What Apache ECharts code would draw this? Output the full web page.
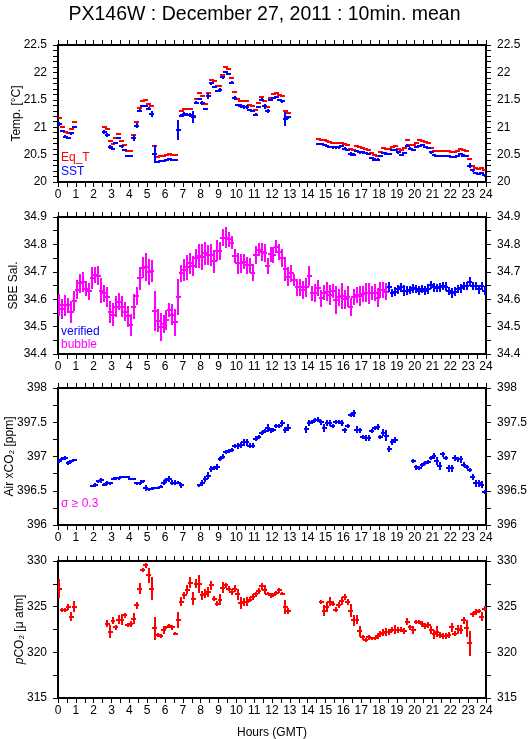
<!DOCTYPE html>
<html>
<head>
<meta charset="utf-8">
<script src="https://cdn.jsdelivr.net/npm/echarts@6/dist/echarts.min.js"></script>
<style>
  html, body { margin: 0; padding: 0; background: #fff; }
  #main { width: 529px; height: 739px; }
</style>
</head>
<body>
<div id="main"></div>
<script>
// 10-minute slots, 144 per day, 12 per row (= 2 hours per row)
const sstVal = [
  21.06, 20.93, 20.83, 20.81, 20.89, 21.00, null, null, null, null, null, null,
  null, null, null, 20.91, 20.86, 20.64, 20.60, 20.71, 20.80, 20.65, 20.58, 20.48,
  20.48, 20.80, 21.03, 21.30, 21.38, 21.39, 21.34, 21.24, 20.51, 20.36, 20.38, 20.39,
  20.41, 20.42, 20.41, 20.41, 20.95, 21.21, 21.24, 21.23, 21.22, 21.18, 21.45, 21.52,
  21.44, 21.33, 21.57, 21.80, 21.74, 21.66, 21.68, 21.91, 22.00, 21.97, 21.81, 21.53,
  21.41, 21.39, 21.37, 21.37, 21.32, 21.29, 21.23, 21.37, 21.50, 21.38, 21.30, 21.49,
  21.53, 21.55, 21.49, 21.47, 21.15, 21.18, null, null, null, null, null, null,
  null, null, null, 20.70, 20.69, 20.67, 20.65, 20.64, 20.63, 20.63, 20.63, 20.65,
  20.61, 20.58, 20.51, 20.50, 20.56, 20.54, 20.54, 20.53, 20.51, 20.44, 20.41, 20.41,
  20.47, 20.53, 20.52, 20.51, 20.58, 20.58, 20.54, 20.50, 20.53, 20.66, 20.61, 20.59,
  20.64, 20.66, 20.67, 20.64, 20.62, 20.54, 20.49, 20.47, 20.47, 20.47, 20.47, 20.48,
  20.45, 20.45, 20.48, 20.51, 20.48, 20.47, 20.30, 20.21, 20.16, 20.15, 20.16, 20.12
]
const sstSd = [
  0.04, 0.02, 0.02, 0.02, 0.03, 0.02, null, null, null, null, null, null,
  null, null, null, 0.03, 0.03, 0.03, 0.02, 0.02, 0.02, 0.03, 0.02, 0.01,
  0.01, 0.05, 0.04, 0.03, 0.02, 0.02, 0.02, 0.05, 0.17, 0.02, 0.01, 0.01,
  0.01, 0.01, 0.01, 0.01, 0.18, 0.03, 0.04, 0.03, 0.04, 0.11, 0.03, 0.02,
  0.03, 0.02, 0.06, 0.03, 0.02, 0.02, 0.03, 0.03, 0.01, 0.02, 0.03, 0.04,
  0.02, 0.04, 0.03, 0.03, 0.02, 0.02, 0.03, 0.02, 0.03, 0.05, 0.04, 0.02,
  0.02, 0.02, 0.02, 0.02, 0.13, 0.03, null, null, null, null, null, null,
  null, null, null, 0.02, 0.02, 0.02, 0.02, 0.02, 0.02, 0.02, 0.02, 0.02,
  0.02, 0.02, 0.03, 0.03, 0.02, 0.02, 0.02, 0.02, 0.02, 0.02, 0.02, 0.02,
  0.02, 0.02, 0.02, 0.02, 0.02, 0.02, 0.02, 0.02, 0.02, 0.03, 0.02, 0.02,
  0.02, 0.02, 0.02, 0.02, 0.02, 0.02, 0.02, 0.02, 0.02, 0.02, 0.02, 0.02,
  0.02, 0.02, 0.02, 0.02, 0.03, 0.02, 0.05, 0.02, 0.02, 0.02, 0.02, 0.02
]
const eqtVal = [
  21.16, 21.01, 20.92, 20.90, 20.96, 21.09, null, null, null, null, null, null,
  null, null, null, 21.00, 20.96, 20.74, 20.69, 20.80, 20.87, 20.74, 20.67, 20.57,
  20.57, 20.86, 21.09, 21.35, 21.48, 21.49, 21.42, 21.38, 20.65, 20.46, 20.47, 20.48,
  20.49, 20.51, 20.50, 20.49, 20.95, 21.29, 21.33, 21.33, 21.33, 21.21, 21.52, 21.62,
  21.57, 21.43, 21.62, 21.87, 21.85, 21.75, 21.75, 21.95, 22.09, 22.06, 21.90, 21.65,
  21.51, 21.47, 21.47, 21.47, 21.41, 21.39, 21.32, 21.45, 21.56, 21.47, 21.37, 21.53,
  21.61, 21.63, 21.58, 21.57, 21.30, 21.26, null, null, null, null, null, null,
  null, null, null, 20.78, 20.77, 20.76, 20.74, 20.73, 20.71, 20.71, 20.71, 20.72,
  20.70, 20.67, 20.60, 20.58, 20.65, 20.64, 20.62, 20.61, 20.59, 20.53, 20.50, 20.48,
  20.54, 20.62, 20.61, 20.60, 20.64, 20.66, 20.61, 20.59, 20.62, 20.76, 20.68, 20.68,
  20.71, 20.76, 20.75, 20.73, 20.71, 20.62, 20.57, 20.57, 20.57, 20.57, 20.56, 20.57,
  20.55, 20.54, 20.56, 20.61, 20.58, 20.57, 20.42, 20.29, 20.26, 20.24, 20.26, 20.21
]
const salVal = [
  34.579, 34.565, 34.578, 34.578, 34.553, 34.594, 34.634, 34.658, 34.663, 34.639, 34.629, 34.678,
  34.688, 34.685, 34.631, 34.622, 34.607, 34.553, 34.543, 34.573, 34.591, 34.573, 34.555, 34.537,
  34.507, 34.573, 34.612, 34.676, 34.715, 34.716, 34.700, 34.703, 34.557, 34.521, 34.497, 34.510,
  34.525, 34.561, 34.543, 34.515, 34.607, 34.694, 34.706, 34.716, 34.731, 34.721, 34.749, 34.757,
  34.755, 34.767, 34.761, 34.761, 34.739, 34.777, 34.777, 34.825, 34.825, 34.818, 34.806, 34.757,
  34.731, 34.731, 34.737, 34.724, 34.724, 34.697, 34.761, 34.781, 34.773, 34.767, 34.721, 34.764,
  34.761, 34.791, 34.773, 34.751, 34.710, 34.682, 34.694, 34.670, 34.643, 34.643, 34.634, 34.643,
  34.685, 34.622, 34.622, 34.640, 34.603, 34.624, 34.628, 34.615, 34.631, 34.597, 34.607, 34.612,
  34.600, 34.609, 34.573, 34.609, 34.615, 34.612, 34.618, 34.624, 34.622, 34.622, 34.624, 34.606,
  34.634, 34.634, 34.628, 34.643, 34.622, 34.628, 34.636, 34.643, 34.631, 34.631, 34.634, 34.640,
  34.636, 34.631, 34.636, 34.631, 34.636, 34.652, 34.643, 34.640, 34.643, 34.648, 34.646, 34.631,
  34.622, 34.628, 34.636, 34.640, 34.648, 34.648, 34.664, 34.648, 34.648, 34.636, 34.648, 34.631
]
const salSd = [
  0.039, 0.036, 0.038, 0.028, 0.039, 0.036, 0.035, 0.034, 0.036, 0.027, 0.031, 0.041,
  0.030, 0.035, 0.045, 0.031, 0.036, 0.040, 0.042, 0.039, 0.030, 0.038, 0.036, 0.039,
  0.040, 0.047, 0.034, 0.042, 0.038, 0.051, 0.047, 0.040, 0.074, 0.042, 0.051, 0.034,
  0.036, 0.025, 0.038, 0.050, 0.065, 0.030, 0.039, 0.045, 0.039, 0.038, 0.034, 0.044,
  0.048, 0.041, 0.038, 0.040, 0.042, 0.039, 0.033, 0.030, 0.038, 0.027, 0.024, 0.025,
  0.039, 0.035, 0.027, 0.031, 0.028, 0.030, 0.033, 0.025, 0.033, 0.033, 0.030, 0.027,
  0.030, 0.024, 0.030, 0.033, 0.043, 0.035, 0.030, 0.021, 0.030, 0.030, 0.032, 0.034,
  0.036, 0.028, 0.033, 0.030, 0.030, 0.027, 0.034, 0.036, 0.026, 0.050, 0.030, 0.048,
  0.035, 0.038, 0.033, 0.030, 0.028, 0.036, 0.029, 0.034, 0.038, 0.025, 0.030, 0.035,
  0.030, 0.028, 0.030, 0.018, 0.015, 0.015, 0.017, 0.016, 0.020, 0.017, 0.015, 0.016,
  0.015, 0.017, 0.015, 0.016, 0.018, 0.014, 0.017, 0.015, 0.016, 0.015, 0.016, 0.015,
  0.018, 0.015, 0.014, 0.016, 0.015, 0.016, 0.017, 0.015, 0.014, 0.016, 0.015, 0.017
]
const salVerifiedFrom = 18.5 // hours; earlier samples are flagged "bubble"
const xco2Val = [
  396.93, 396.97, 396.98, 396.91, 396.93, 396.95, null, null, null, null, null, 396.57,
  396.58, 396.64, 396.65, 396.59, 396.61, 396.61, 396.67, 396.68, 396.68, 396.70, 396.70, 396.70,
  396.67, 396.67, 396.61, 396.61, 396.64, 396.54, 396.52, 396.53, 396.54, 396.54, 396.56, 396.62,
  396.65, 396.67, 396.62, 396.62, 396.62, 396.58, null, null, null, null, null, 396.58,
  396.61, 396.67, 396.72, 396.82, 396.83, 396.85, 396.96, 397.00, 397.06, 397.08, 397.10, 397.15,
  397.15, 397.17, 397.21, 397.21, 397.16, 397.16, 397.26, 397.29, 397.34, 397.37, 397.42, 397.38,
  397.39, 397.44, 397.45, 397.49, 397.39, 397.42, null, null, null, null, null, 397.40,
  397.49, 397.51, 397.53, 397.54, 397.50, 397.42, 397.49, 397.49, 397.45, 397.50, 397.51, 397.49,
  397.38, 397.45, 397.61, 397.63, 397.39, 397.38, 397.29, 397.27, 397.27, 397.37, 397.42, 397.43,
  397.29, 397.35, 397.30, 397.11, 397.21, 397.24, null, null, null, null, null, 396.93,
  396.84, 396.83, 396.87, 396.90, 396.92, 396.98, 397.01, 396.93, 396.86, 397.03, 396.98, 396.83,
  396.83, 396.98, 396.96, 396.96, 396.88, 396.85, 396.80, 396.70, 396.61, 396.61, 396.59, 396.48
]
const xco2Sd = [
  0.03, 0.02, 0.03, 0.03, 0.02, 0.02, null, null, null, null, null, 0.02,
  0.03, 0.02, 0.03, 0.02, 0.03, 0.02, 0.02, 0.02, 0.02, 0.02, 0.02, 0.02,
  0.02, 0.02, 0.02, 0.02, 0.02, 0.04, 0.02, 0.02, 0.02, 0.02, 0.02, 0.03,
  0.03, 0.04, 0.03, 0.03, 0.02, 0.04, null, null, null, null, null, 0.02,
  0.04, 0.04, 0.05, 0.04, 0.03, 0.04, 0.03, 0.03, 0.03, 0.03, 0.03, 0.03,
  0.04, 0.04, 0.05, 0.05, 0.03, 0.03, 0.04, 0.03, 0.03, 0.03, 0.06, 0.03,
  0.03, 0.03, 0.03, 0.04, 0.04, 0.05, null, null, null, null, null, 0.05,
  0.04, 0.03, 0.03, 0.03, 0.04, 0.06, 0.05, 0.05, 0.03, 0.03, 0.03, 0.04,
  0.03, 0.03, 0.03, 0.05, 0.05, 0.03, 0.03, 0.04, 0.04, 0.03, 0.03, 0.04,
  0.03, 0.05, 0.08, 0.04, 0.04, 0.04, null, null, null, null, null, 0.03,
  0.03, 0.03, 0.03, 0.03, 0.03, 0.03, 0.04, 0.06, 0.06, 0.03, 0.03, 0.05,
  0.05, 0.04, 0.04, 0.05, 0.04, 0.03, 0.03, 0.04, 0.05, 0.05, 0.05, 0.03
]
const pco2Val = [
  326.98, 324.61, 324.61, 324.97, 323.88, 324.97, null, null, null, null, null, null,
  null, null, null, null, 323.15, 322.24, 323.45, 322.72, 323.59, 323.59, 324.06, 322.97,
  323.08, 323.70, 325.16, 326.98, 329.05, 329.52, 328.43, 326.98, 322.61, 321.88, 321.77, 322.43,
  322.72, 322.86, 322.72, 322.06, 323.52, 325.52, 326.25, 326.87, 327.60, 325.88, 327.52, 327.52,
  326.25, 326.43, 326.61, 327.34, 325.88, 325.34, 325.78, 327.09, 327.34, 326.98, 326.61, 326.98,
  326.36, 325.41, 325.52, 325.52, 325.78, 326.07, 326.36, 326.72, 327.23, 326.87, 326.43, 326.25,
  326.25, 326.50, 326.79, 326.43, 324.97, 324.50, null, null, null, null, null, null,
  null, null, null, null, 325.52, 324.54, 324.97, 325.52, 325.34, 324.68, 325.16, 325.63,
  326.07, 325.52, 324.54, 323.52, 323.59, 322.32, 321.63, 321.33, 321.63, 321.52, 321.52, 321.77,
  321.99, 322.14, 322.21, 322.24, 322.50, 322.50, 322.43, 322.50, 322.35, 323.34, 322.72, 322.43,
  323.34, 323.34, 323.08, 322.86, 322.97, 322.43, 321.99, 322.24, 321.88, 321.77, 321.77, 321.88,
  322.72, 322.06, 322.54, 322.50, 323.52, 322.61, 320.97, 324.17, 324.43, 324.54, 323.88, 324.79
]
const pco2Sd = [
  1.0, 0.2, 0.2, 0.3, 0.5, 0.6, null, null, null, null, null, null,
  null, null, null, null, 0.4, 0.7, 0.4, 0.3, 0.5, 0.6, 0.3, 0.2,
  0.3, 0.6, 0.4, 0.6, 0.2, 0.3, 0.8, 1.3, 1.3, 0.2, 0.2, 0.4,
  0.2, 0.2, 0.3, 0.2, 0.9, 0.5, 0.4, 0.5, 0.6, 0.7, 0.5, 1.0,
  0.5, 0.5, 0.5, 0.5, 0.3, 0.3, 0.6, 0.6, 0.3, 0.3, 0.3, 0.4,
  0.6, 0.7, 0.4, 0.5, 0.3, 0.3, 0.3, 0.3, 0.4, 0.5, 0.2, 0.3,
  0.2, 0.2, 0.3, 0.2, 0.8, 0.3, null, null, null, null, null, null,
  null, null, null, null, 0.2, 0.6, 0.5, 0.5, 0.3, 0.3, 0.3, 0.4,
  0.3, 0.3, 0.7, 0.6, 0.5, 0.6, 0.3, 0.2, 0.3, 0.2, 0.2, 0.3,
  0.3, 0.4, 0.4, 0.3, 0.3, 0.5, 0.3, 0.3, 0.3, 0.4, 0.3, 0.4,
  0.2, 0.2, 0.3, 0.3, 0.3, 0.4, 0.5, 0.6, 0.3, 0.3, 0.3, 0.3,
  0.5, 0.3, 0.5, 0.5, 0.4, 0.9, 1.4, 0.3, 0.3, 0.2, 0.5, 0.3
]

const FONT = '"Liberation Sans", Arial, Helvetica, sans-serif'
const RED = '#ff0000'
const BLUE = '#0000ff'
const MAGENTA = '#ff00ff'
const HALF_SLOT = 1 / 12 // 5 minutes, in hours

// centre of each 10-min slot, in hours
const slotHours = salVal.map((v, i) => (i + 0.5) / 6)

function rows (vals, sds, from, to) {
  const out = []
  vals.forEach((v, i) => {
    const h = slotHours[i]
    if (v == null || h < from || h >= to) return
    out.push([h, v, sds ? sds[i] : 0])
  })
  return out
}

// horizontal bar = averaging window, vertical bar = +/- std dev
// (snapped to whole pixels so the 2px strokes stay crisp)
function crossMark (color, vertical) {
  return function (params, api) {
    const h = api.value(0)
    const v = api.value(1)
    const sd = api.value(2)
    const a = api.coord([h - HALF_SLOT, v])
    const b = api.coord([h + HALF_SLOT, v])
    const y = Math.round(a[1])
    const kids = [{
      type: 'line',
      shape: { x1: Math.round(a[0]) - 1, y1: y, x2: Math.round(b[0]) + 1, y2: y },
      style: { stroke: color, lineWidth: 2 }
    }]
    if (vertical && sd > 0) {
      const t = api.coord([h, v + sd])
      const d = api.coord([h, v - sd])
      const x = Math.round(t[0])
      kids.push({
        type: 'line',
        shape: { x1: x, y1: Math.round(t[1]), x2: x, y2: Math.round(d[1]) },
        style: { stroke: color, lineWidth: 2 }
      })
    }
    return { type: 'group', children: kids }
  }
}

const gridTops = [45, 217, 388, 561]
const panels = [
  { min: 20, max: 22.5, step: 0.5, split: 5, name: 'Temp. [°C]', gap: 35 },
  { min: 34.4, max: 34.9, step: 0.1, split: 2, name: 'SBE Sal.', gap: 38 },
  { min: 396, max: 398, step: 0.5, split: 2, name: 'Air xCO₂ [ppm]', gap: 42 },
  { min: 315, max: 330, step: 5, split: 2, name: '{it|p}CO₂ [μ atm]', gap: 32 }
]

const lineStyle = { color: '#000', width: 2 }
const tickStyle = { show: true, inside: false, length: 5, lineStyle: { color: '#000', width: 1 } }
const labelStyle = { color: '#000', fontSize: 12, fontFamily: FONT }

const grid = []
const xAxis = []
const yAxis = []
panels.forEach((p, k) => {
  grid.push({ left: 58, right: 43, top: gridTops[k], height: 137, outerBoundsMode: 'none', containLabel: false })
  ;['bottom', 'top'].forEach(pos => {
    xAxis.push({
      gridIndex: k,
      type: 'value',
      position: pos,
      min: 0,
      max: 24,
      interval: 1,
      axisLine: { show: true, onZero: false, lineStyle },
      axisTick: tickStyle,
      minorTick: { show: true, splitNumber: 2, length: 5, lineStyle: { color: '#000', width: 1 } },
      splitLine: { show: false },
      axisLabel: Object.assign({ show: pos === 'bottom', margin: 7 }, labelStyle),
      name: (pos === 'bottom' && k === 3) ? 'Hours (GMT)' : '',
      nameLocation: 'middle',
      nameGap: 29,
      nameMoveOverlap: false,
      nameTextStyle: labelStyle
    })
  })
  ;['left', 'right'].forEach(pos => {
    yAxis.push({
      gridIndex: k,
      type: 'value',
      position: pos,
      min: p.min,
      max: p.max,
      interval: p.step,
      axisLine: { show: true, onZero: false, lineStyle },
      axisTick: tickStyle,
      minorTick: { show: true, splitNumber: p.split, length: 5, lineStyle: { color: '#000', width: 1 } },
      splitLine: { show: false },
      axisLabel: Object.assign({ margin: 11 }, labelStyle),
      name: pos === 'left' ? p.name : '',
      nameLocation: 'middle',
      nameGap: p.gap,
      nameMoveOverlap: false,
      nameTextStyle: Object.assign({
        rich: { it: { fontStyle: 'italic', fontSize: 12, fontFamily: FONT, color: '#000' } }
      }, labelStyle)
    })
  })
})

function errSeries (k, data, color, vertical) {
  return {
    type: 'custom',
    xAxisIndex: k * 2,
    yAxisIndex: k * 2,
    clip: true,
    renderItem: crossMark(color, vertical),
    encode: { x: 0, y: 1 },
    data
  }
}

const series = [
  errSeries(0, rows(eqtVal, null, 0, 24), RED, false),
  errSeries(0, rows(sstVal, sstSd, 0, 24), BLUE, true),
  errSeries(1, rows(salVal, salSd, 0, salVerifiedFrom), MAGENTA, true),
  errSeries(1, rows(salVal, salSd, salVerifiedFrom, 24), BLUE, true),
  errSeries(2, rows(xco2Val, xco2Sd, 0, 24), BLUE, true),
  errSeries(3, rows(pco2Val, pco2Sd, 0, 24), RED, true)
]

function note (text, x, y, color) {
  return {
    type: 'text',
    x,
    y,
    style: { text, fill: color, fontSize: 12, fontFamily: FONT, verticalAlign: 'middle' }
  }
}

const chart = echarts.init(document.getElementById('main'), null, { renderer: 'canvas' })
chart.setOption({
  animation: false,
  backgroundColor: '#fff',
  title: {
    text: 'PX146W : December 27, 2011 : 10min. mean',
    left: 'center',
    top: 0,
    textStyle: { fontSize: 19.5, fontWeight: 'normal', fontFamily: FONT, color: '#000' }
  },
  grid,
  xAxis,
  yAxis,
  series,
  graphic: [
    note('Eq_T', 61, 158, RED),
    note('SST', 61, 172, BLUE),
    note('verified', 61, 332, BLUE),
    note('bubble', 61, 345, MAGENTA),
    note('σ ≥ 0.3', 61, 504, MAGENTA)
  ]
})
</script>
</body>
</html>
